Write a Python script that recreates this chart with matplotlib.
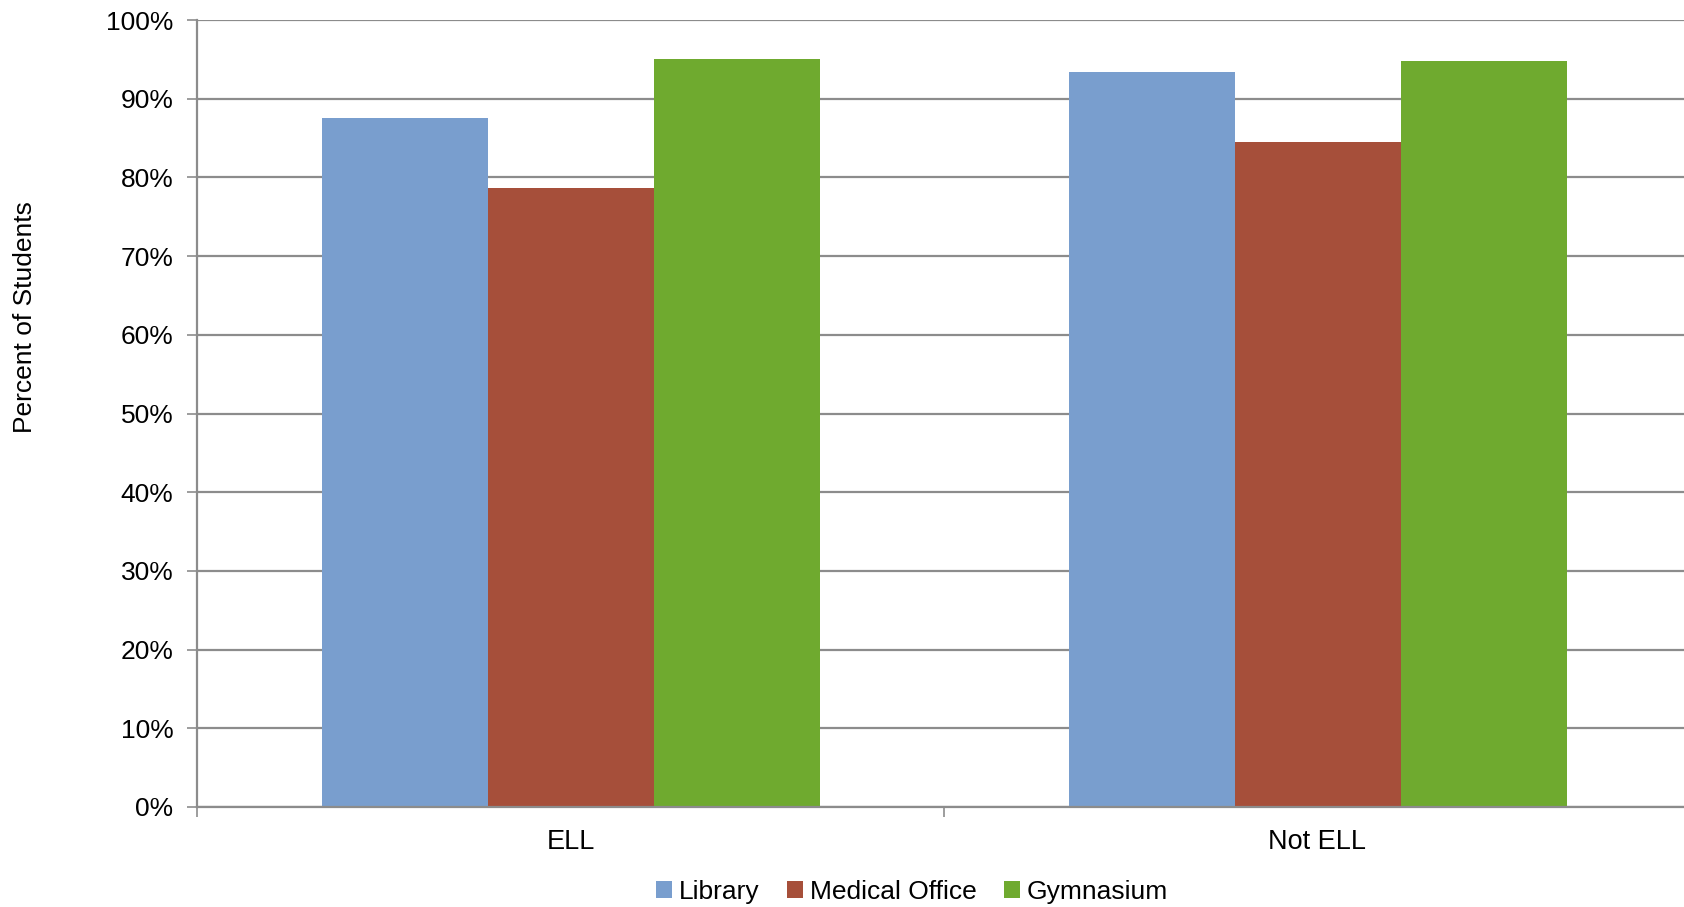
import numpy as np
import matplotlib.pyplot as plt
from matplotlib.ticker import PercentFormatter

## categories and series values (percent of students)
groups = ['ELL', 'Not ELL']
series = ['Library', 'Medical Office', 'Gymnasium']
library = [87.5, 93.4]
medical = [78.6, 84.5]
gym = [95.1, 94.8]
colors = ['#799ECE', '#A64F3A', '#6FAA2F']

plt.rcParams['font.family'] = ['Liberation Sans', 'DejaVu Sans']

fig = plt.figure(figsize=(16.84, 9.07), dpi=100)
ax = fig.add_axes([197 / 1684, 100 / 907, 1487 / 1684, 787 / 907])

## bars with a 150% gap, three per group
x = np.arange(len(groups))
width = 1 / 4.5
for i, (vals, name) in enumerate(zip([library, medical, gym], series)):
    ax.bar(x + (i - 1) * width, vals, width, color=colors[i], label=name, zorder=2)

ax.set_ylim(0, 100)
ax.set_xlim(-0.5, -0.5 + 1487 / 747)
ax.set_yticks(np.arange(0, 101, 10))
ax.yaxis.set_major_formatter(PercentFormatter(decimals=0))
ax.grid(axis='y', color='#8c8c8c', linewidth=1.6, zorder=0)

## category ticks sit on the boundaries, labels in the middle
ax.set_xticks([-0.5, 0.5])
ax.set_xticklabels([])
ax.set_xticks(x, minor=True)
ax.set_xticklabels(groups, minor=True)
ax.tick_params(axis='x', which='minor', length=0, pad=16, labelsize=19.5)
ax.tick_params(axis='x', which='major', length=7, width=1.2, color='#8c8c8c')
ax.tick_params(axis='y', length=7, width=1.2, color='#8c8c8c', labelsize=19, pad=10)

for side in ['top', 'right']:
    ax.spines[side].set_visible(False)
for side in ['left', 'bottom']:
    ax.spines[side].set_color('#8c8c8c')
    ax.spines[side].set_linewidth(1.6)

fig.text(25 / 1684, 1 - 317 / 907, 'Percent of Students', rotation=90,
         ha='center', va='center', fontsize=19)

ax.legend(loc='center', bbox_to_anchor=(912 / 1684, 1 - 892 / 907),
          bbox_transform=fig.transFigure, ncol=3, frameon=False, fontsize=19,
          handlelength=0.6, handleheight=0.6, handletextpad=0.25, columnspacing=1.05)

fig.savefig('out.png', dpi=100)
